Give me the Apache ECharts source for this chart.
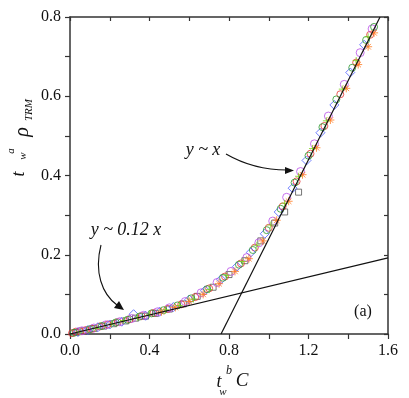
<!DOCTYPE html>
<html><head><meta charset="utf-8">
<script src="https://cdn.jsdelivr.net/npm/echarts/dist/echarts.min.js"></script>
<style>html,body{margin:0;padding:0;background:#fff}#c{width:409px;height:398px}</style>
</head><body><div id="c"></div>
<script>
const sqX = [0.03,0.07,0.12,0.17,0.22,0.28,0.33,0.38,0.43,0.5,0.57,0.64,0.72,0.8,0.88,0.96,1.03,1.08,1.15];
const sqY = [0.004,0.008,0.014,0.02,0.026,0.033,0.04,0.045,0.052,0.063,0.076,0.095,0.118,0.15,0.185,0.235,0.28,0.308,0.358];
const redX = [0.01,0.03,0.05,0.08,0.11,0.15,0.19,0.24,0.3,0.36,0.42,0.49,0.56,0.63,0.7,0.78,0.86,0.93,1.0,1.07,1.14,1.21,1.28,1.36,1.44,1.51];
const redY = [0.002,0.006,0.007,0.01,0.013,0.019,0.024,0.03,0.037,0.045,0.053,0.063,0.075,0.093,0.115,0.145,0.178,0.218,0.268,0.322,0.385,0.455,0.525,0.605,0.685,0.755];
const blueX = [0.04,0.09,0.14,0.2,0.26,0.32,0.38,0.45,0.52,0.6,0.68,0.76,0.84,0.91,0.98,1.05,1.12,1.19,1.26,1.33,1.41,1.48];
const blueY = [0.005,0.01,0.017,0.024,0.031,0.05,0.046,0.056,0.068,0.087,0.11,0.138,0.17,0.206,0.253,0.308,0.368,0.438,0.508,0.578,0.66,0.73];
const violetX = [0.06,0.12,0.18,0.25,0.31,0.37,0.44,0.5,0.58,0.66,0.74,0.81,0.89,0.95,1.02,1.09,1.16,1.23,1.3,1.38,1.46,1.52];
const violetY = [0.008,0.015,0.023,0.031,0.039,0.047,0.056,0.066,0.082,0.104,0.13,0.158,0.193,0.23,0.285,0.345,0.41,0.48,0.55,0.63,0.71,0.77];
const greenX = [0.02,0.1,0.16,0.23,0.29,0.35,0.41,0.47,0.54,0.61,0.69,0.77,0.85,0.92,0.99,1.06,1.13,1.2,1.27,1.34,1.42,1.49,1.53];
const greenY = [0.003,0.012,0.02,0.029,0.036,0.044,0.052,0.06,0.072,0.09,0.113,0.142,0.175,0.212,0.262,0.316,0.382,0.45,0.522,0.592,0.672,0.742,0.775];
const orangeX = [0.46,0.53,0.6,0.67,0.75,0.83,0.9,0.97,1.04,1.1,1.17,1.24,1.31,1.39,1.45,1.5,1.53];
const orangeY = [0.056,0.067,0.082,0.1,0.127,0.158,0.19,0.235,0.287,0.335,0.402,0.47,0.54,0.62,0.68,0.725,0.76];
const crossX = [0.05,0.13,0.21,0.27,0.34,0.4,0.48,0.55,0.62,0.7,0.79,0.87,0.94,1.01,1.08,1.15,1.22,1.29,1.37,1.44,1.5];
const crossY = [0.005,0.014,0.025,0.034,0.042,0.05,0.061,0.072,0.088,0.112,0.148,0.183,0.224,0.275,0.33,0.398,0.468,0.538,0.618,0.69,0.75];
const lineAx = [0.76, 1.56], lineAy = [0, 0.8];
const lineBx = [0, 1.6], lineBy = [0, 0.192];

const zip = (a, b) => a.map((v, i) => [v, b[i]]);
const SERIF = "'Liberation Serif', 'DejaVu Serif', serif";
const AX = '#333';

function scat(name, xs, ys, symbol, color, size) {
  return {
    type: 'scatter', name, data: zip(xs, ys), symbol, symbolSize: size,
    itemStyle: { color: 'rgba(0,0,0,0)', borderColor: color, borderWidth: 1 },
    z: 3, silent: true
  };
}
const star = 'path://M5,0L5,10M0,5L10,5M1.5,1.5L8.5,8.5M8.5,1.5L1.5,8.5';
const plus = 'path://M5,0L5,10M0,5L10,5';

function txt(x, y, s, size, italic, rot) {
  return { type: 'text', x, y, rotation: rot || 0, z: 10,
    style: { text: s, font: (italic ? 'italic ' : '') + size + 'px ' + SERIF, fill: '#111',
      textAlign: 'center', textVerticalAlign: 'middle' } };
}

const chart = echarts.init(document.getElementById('c'), null, { renderer: 'canvas' });
const R = Math.PI / 2;
chart.setOption({
  animation: false,
  grid: { left: 70, right: 21, top: 17, bottom: 64 },
  xAxis: [{
    type: 'value', min: 0, max: 1.6, interval: 0.4, position: 'bottom',
    axisLine: { show: true, onZero: false, lineStyle: { color: AX, width: 1.5 } },
    axisTick: { show: true, inside: false, length: 5, lineStyle: { color: AX, width: 1.2 } },
    minorTick: { show: true, splitNumber: 2, length: 5, lineStyle: { color: AX, width: 1.2 } },
    axisLabel: { color: '#111', fontFamily: SERIF, fontSize: 16, margin: 9, formatter: v => v.toFixed(1) },
    splitLine: { show: false }
  }, {
    type: 'value', min: 0, max: 1.6, interval: 0.2, position: 'top',
    axisLine: { show: true, onZero: false, lineStyle: { color: AX, width: 1.5 } },
    axisTick: { show: true, inside: true, length: 4, lineStyle: { color: AX, width: 1.2 } },
    axisLabel: { show: false }, splitLine: { show: false }
  }],
  yAxis: [{
    type: 'value', min: 0, max: 0.8, interval: 0.2, position: 'left',
    axisLine: { show: true, onZero: false, lineStyle: { color: AX, width: 1.5 } },
    axisTick: { show: true, inside: false, length: 5, lineStyle: { color: AX, width: 1.2 } },
    minorTick: { show: true, splitNumber: 2, length: 5, lineStyle: { color: AX, width: 1.2 } },
    axisLabel: { color: '#111', fontFamily: SERIF, fontSize: 16, margin: 9, formatter: v => v.toFixed(1) },
    splitLine: { show: false }
  }, {
    type: 'value', min: 0, max: 0.8, interval: 0.1, position: 'right',
    axisLine: { show: true, onZero: false, lineStyle: { color: AX, width: 1.5 } },
    axisTick: { show: true, inside: true, length: 4, lineStyle: { color: AX, width: 1.2 } },
    axisLabel: { show: false }, splitLine: { show: false }
  }],
  series: [
    { type: 'line', data: zip(lineBx, lineBy), symbol: 'none', lineStyle: { color: '#111', width: 1.2 }, z: 4, silent: true },
    { type: 'line', data: zip(lineAx, lineAy), symbol: 'none', lineStyle: { color: '#111', width: 1.2 }, z: 4, silent: true },
    scat('sq', sqX, sqY, 'rect', '#555', 6),
    scat('red', redX, redY, 'circle', '#e8312f', 7),
    scat('blue', blueX, blueY, 'diamond', '#4a5cff', 9),
    scat('violet', violetX, violetY, 'circle', '#b94fe8', 8),
    scat('green', greenX, greenY, 'circle', '#2e9b2e', 7),
    scat('orange', orangeX, orangeY, star, '#ff7a1f', 8),
    scat('cross', crossX, crossY, plus, '#7ccf1a', 7)
  ],
  graphic: [
    txt(203, 150, 'y ~ x', 18, true),
    txt(126, 230, 'y ~ 0.12 x', 18, true),
    txt(363, 312, '(a)', 16, false),
    { type: 'bezierCurve', z: 10, shape: { x1: 226, y1: 154, x2: 287, y2: 170, cpx1: 245, cpy1: 165, cpx2: 266, cpy2: 170 },
      style: { stroke: '#111', lineWidth: 1.1, fill: null } },
    { type: 'polygon', z: 10, shape: { points: [[294, 170.5], [285, 167], [285, 174]] }, style: { fill: '#111' } },
    { type: 'bezierCurve', z: 10, shape: { x1: 101, y1: 245, x2: 117, y2: 305, cpx1: 94, cpy1: 272, cpx2: 102, cpy2: 294 },
      style: { stroke: '#111', lineWidth: 1.1, fill: null } },
    { type: 'polygon', z: 10, shape: { points: [[124, 310], [114, 308], [119, 301]] }, style: { fill: '#111' } },
    // x axis name
    txt(219, 382, 't', 18, true),
    txt(223, 392, 'w', 11, true),
    txt(229, 371, 'b', 12, true),
    txt(242, 381, 'C', 19, true),
    // y axis name (rotated)
    txt(19, 174, 't', 18, true, R),
    txt(11, 151, 'a', 11, true, R),
    txt(23, 156, 'w', 11, true, R),
    txt(23, 132, 'ρ', 20, true, R),
    txt(29, 110, 'TRM', 11, true, R)
  ]
});
</script></body></html>
